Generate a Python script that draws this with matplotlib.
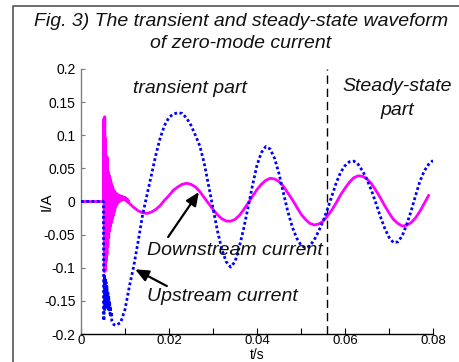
import matplotlib
matplotlib.use("Agg")
import matplotlib.pyplot as plt
from matplotlib.lines import Line2D
import numpy as np

plt.rcParams['font.family'] = ['Liberation Sans', 'DejaVu Sans']

# ---------------- data ----------------
# Upstream current (blue dotted)
up_t = [0.0, 0.001, 0.002, 0.003, 0.004, 0.005, 0.0051,
        0.0052, 0.0053, 0.0054, 0.0055, 0.0056, 0.0057, 0.0058, 0.0059, 0.0060,
        0.0061, 0.0062, 0.0063, 0.0064, 0.0065, 0.0066, 0.0067, 0.0068, 0.0069,
        0.0070, 0.0072, 0.0075, 0.0078,
        0.009, 0.010, 0.011, 0.012, 0.013, 0.014, 0.015, 0.016, 0.017, 0.018,
        0.019, 0.020, 0.021, 0.022, 0.023, 0.024, 0.025, 0.026, 0.027, 0.028,
        0.029, 0.030, 0.031, 0.032, 0.033, 0.034, 0.035, 0.036, 0.037, 0.038,
        0.039, 0.040, 0.041, 0.042, 0.043, 0.044, 0.045, 0.046, 0.047, 0.048,
        0.049, 0.050, 0.051, 0.052, 0.053, 0.054, 0.055, 0.056, 0.057, 0.058,
        0.059, 0.060, 0.061, 0.062, 0.063, 0.064, 0.065, 0.066, 0.067, 0.068,
        0.069, 0.070, 0.071, 0.072, 0.073, 0.074, 0.075, 0.076, 0.077, 0.078,
        0.079, 0.080]
up_i = [0.0, 0.0, 0.0, 0.0, 0.0, 0.0, 0.0,
        -0.180, -0.110, -0.165, -0.115, -0.160, -0.122, -0.158, -0.128, -0.160,
        -0.135, -0.162, -0.142, -0.166, -0.150, -0.170, -0.158, -0.175, -0.167,
        -0.180, -0.183, -0.186, -0.187,
        -0.183, -0.163, -0.128, -0.097, -0.060, -0.020, 0.010, 0.040, 0.070, 0.096,
        0.115, 0.127, 0.132, 0.134, 0.133, 0.126, 0.115, 0.100, 0.084, 0.058,
        0.024, -0.010, -0.044, -0.072, -0.091, -0.099, -0.091, -0.068, -0.040, -0.008,
        0.025, 0.055, 0.074, 0.083, 0.079, 0.065, 0.042, 0.013, -0.015, -0.038,
        -0.055, -0.066, -0.070, -0.067, -0.058, -0.045, -0.030, -0.012, 0.008, 0.028,
        0.044, 0.054, 0.060, 0.061, 0.056, 0.046, 0.033, 0.017, -0.002, -0.022,
        -0.040, -0.054, -0.062, -0.061, -0.052, -0.035, -0.015, 0.008, 0.030, 0.046,
        0.056, 0.062]

# Downstream current (magenta solid)
down_t = [0.0, 0.001, 0.002, 0.003, 0.004, 0.005, 0.0051,
          0.0052, 0.0053, 0.0054, 0.0055, 0.0056, 0.0057, 0.0058, 0.0059, 0.0060,
          0.0061, 0.0062, 0.0063, 0.0064, 0.0065, 0.0066, 0.0067, 0.0068, 0.0069,
          0.0070, 0.0071, 0.0072, 0.0073, 0.0074, 0.0075, 0.0076, 0.0077, 0.0078,
          0.0079, 0.0080, 0.0081, 0.0082, 0.0083, 0.0084, 0.0085, 0.0086, 0.0087,
          0.0088, 0.0089, 0.0090, 0.0091, 0.0092, 0.0093, 0.0094, 0.0095, 0.0096,
          0.0097, 0.0098, 0.0099, 0.0100, 0.0101, 0.0102, 0.0103, 0.0104, 0.0105,
          0.0106, 0.0107, 0.0108, 0.0109, 0.0110,
          0.012, 0.013, 0.014, 0.015, 0.016, 0.017, 0.018, 0.019, 0.020, 0.021,
          0.022, 0.023, 0.024, 0.025, 0.026, 0.027, 0.028, 0.029, 0.030, 0.031,
          0.032, 0.033, 0.034, 0.035, 0.036, 0.037, 0.038, 0.039, 0.040, 0.041,
          0.042, 0.043, 0.044, 0.045, 0.046, 0.047, 0.048, 0.049, 0.050, 0.051,
          0.052, 0.053, 0.054, 0.055, 0.056, 0.057, 0.058, 0.059, 0.060, 0.061,
          0.062, 0.063, 0.064, 0.065, 0.066, 0.067, 0.068, 0.069, 0.070, 0.071,
          0.072, 0.073, 0.074, 0.075, 0.076, 0.077, 0.078, 0.079]
down_i = [0.0, 0.0, 0.0, 0.0, 0.0, 0.0, 0.0,
          0.125, -0.106, 0.128, -0.105, 0.095, -0.090, 0.068, -0.080, 0.066,
          -0.068, 0.045, -0.055, 0.040, -0.045, 0.035, -0.038, 0.030, -0.032,
          0.025, -0.027, 0.022, -0.022, 0.018, -0.017, 0.016, -0.012, 0.014,
          -0.008, 0.012, -0.005, 0.011, -0.003, 0.010, -0.001, 0.009, 0.000,
          0.009, 0.001, 0.008, 0.002, 0.008, 0.002, 0.007, 0.003, 0.007,
          0.003, 0.006, 0.003, 0.006, 0.002, 0.005, 0.001, 0.004, 0.000,
          0.003, -0.001, 0.001, -0.002, -0.003,
          -0.009, -0.014, -0.017, -0.018, -0.016, -0.012, -0.006, 0.002, 0.009, 0.017,
          0.022, 0.026, 0.0275, 0.026, 0.022, 0.015, 0.006, -0.003, -0.012, -0.020,
          -0.026, -0.0295, -0.0297, -0.027, -0.021, -0.012, -0.002, 0.008, 0.018, 0.026,
          0.032, 0.035, 0.034, 0.030, 0.023, 0.013, 0.003, -0.008, -0.019, -0.027,
          -0.033, -0.0354, -0.034, -0.030, -0.022, -0.013, -0.002, 0.010, 0.020, 0.029,
          0.036, 0.0387, 0.038, 0.034, 0.027, 0.017, 0.006, -0.006, -0.017, -0.027,
          -0.033, -0.037, -0.036, -0.032, -0.025, -0.015, -0.003, 0.009]

boundary_t = 0.0559
x_ticks = [0, 0.02, 0.04, 0.06, 0.08]
x_tick_labels = ['0', '0.02', '0.04', '0.06', '0.08']
y_ticks = [-0.2, -0.15, -0.1, -0.05, 0, 0.05, 0.1, 0.15, 0.2]
y_tick_labels = ['-0.2', '-0.15', '-0.1', '-0.05', '0', '0.05', '0.1', '0.15', '0.2']
title_lines = ["Fig. 3) The transient and steady-state waveform", "of zero-mode current"]

# ---------------- figure ----------------
W, H = 460, 362
fig = plt.figure(figsize=(W / 100, H / 100), dpi=100)
ax_l, ax_r, ax_t, ax_b = 81, 433, 69, 334
ax = fig.add_axes([ax_l / W, 1 - ax_b / H, (ax_r - ax_l) / W, (ax_b - ax_t) / H])

ax.plot(down_t, down_i, color='#ff00ff', lw=2.0, solid_joinstyle='round', zorder=2)
ax.plot(up_t, up_i, color='#0000ff', lw=2.0, linestyle=(0, (1, 0.9)), zorder=3)
ax.plot([boundary_t, boundary_t], [-0.2, 0.2], color='black', lw=1.0,
        linestyle=(0, (6, 3.5)), zorder=1)

ax.set_xlim(0, 0.08)
ax.set_ylim(-0.2, 0.2)
ax.set_xticks(x_ticks)
ax.set_xticklabels(x_tick_labels)
ax.set_xticks([0.01, 0.03, 0.05, 0.07], minor=True)
ax.set_yticks(y_ticks)
ax.set_yticklabels(y_tick_labels)
ax.tick_params(axis='both', which='both', direction='in', labelsize=10, width=0.8)
ax.tick_params(axis='x', which='both', length=4, pad=1, labelsize=9.5, color='black')
ax.tick_params(axis='y', which='both', length=3, pad=4, color='#777777')
for s in ('top', 'right'):
    ax.spines[s].set_visible(False)
ax.spines['left'].set_color('#808080')
ax.spines['bottom'].set_color('black')
ax.spines['left'].set_linewidth(1.0)
ax.spines['bottom'].set_linewidth(1.0)

ax.set_xlabel('t/s', fontsize=10, va='bottom', ha='center')
ax.xaxis.set_label_coords(0.5, (ax_b - 362) / (ax_b - ax_t))
ax.set_ylabel('I/A', fontsize=11, va='center', ha='center')
ax.yaxis.set_label_coords((47 - ax_l) / (ax_r - ax_l), 0.5)

tfont = dict(fontsize=14, style='italic', color='#111111')
ax.text(0.0248, 0.170, 'transient part', ha='center', va='center', **tfont)
ax.text(0.0718, 0.173, 'Steady-state', ha='center', va='center', clip_on=False, **tfont)
ax.text(0.0718, 0.137, 'part', ha='center', va='center', **tfont)
ax.text(0.0151, -0.0733, 'Downstream current', ha='left', va='center', **tfont)
ax.text(0.0149, -0.1427, 'Upstream current', ha='left', va='center', **tfont)

arrow = dict(arrowstyle='-|>,head_length=0.8,head_width=0.35', color='black', lw=1.6,
             shrinkA=0, shrinkB=0)
ax.annotate('', xy=(0.0268, 0.0143), xytext=(0.0198, -0.0536), arrowprops=arrow)
ax.annotate('', xy=(0.0123, -0.1024), xytext=(0.0195, -0.1276), arrowprops=arrow)

for k, line in enumerate(title_lines):
    fig.text(241 / W, 1 - (21 + 22 * k) / H, line, ha='center', va='center',
             fontsize=14, style='italic', color='#111111')

# outer frame (left and top edges)
fig.add_artist(Line2D([13 / W, 13 / W, 1.0], [0.0, 1 - 6 / H, 1 - 6 / H],
                      transform=fig.transFigure, color='#555555', lw=1.2))

fig.savefig('out.png', dpi=100)
